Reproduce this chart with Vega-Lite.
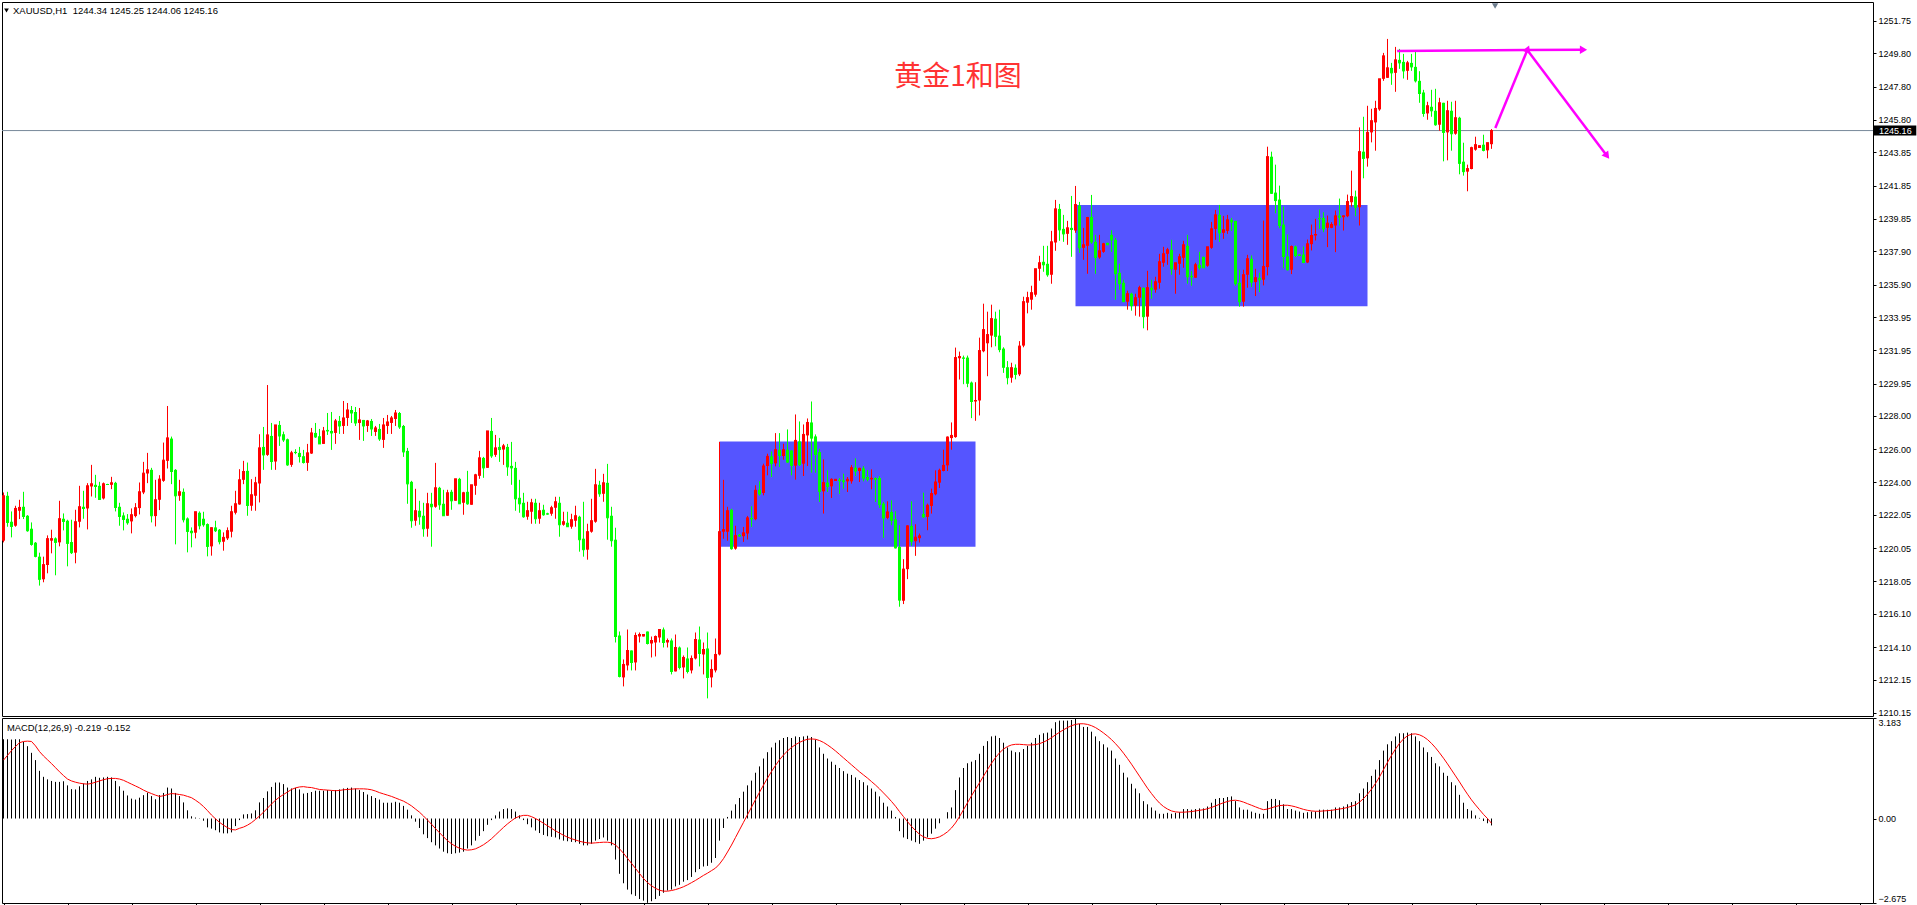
{
"$schema":"https://vega.github.io/schema/vega-lite/v6.json",
"background":"#ffffff",
"padding":{"left":1,"top":1,"right":0,"bottom":0},
"autosize":{"type":"pad"},
"spacing":2,
"bounds":"flush",
"config":{"view":{"stroke":"#000000","strokeWidth":1},"font":"Liberation Sans",
"axis":{"labelFont":"Liberation Sans","labelFontSize":9,"labelColor":"#000000","tickColor":"#000000","tickSize":3,"labelPadding":2,"domain":false,"grid":false}},
"datasets":{
"boxes":[{"x0":179,"x1":243,"lo":1220.13,"hi":1226.46},{"x0":268,"x1":341,"lo":1234.59,"hi":1240.69}],
"arrows":[{"x0":348.4,"p0":1249.95,"x1":394.7,"p1":1250.02},{"x0":372.95,"p0":1245.32,"x1":380.95,"p1":1250.0},{"x0":380.95,"p0":1250.0,"x1":400.7,"p1":1243.69}],
"bars":[
{"i":0,"o":1220.5,"h":1223.4,"l":1220.4,"c":1223.2,"m":2.51,"s":1.85},
{"i":1,"o":1223.2,"h":1223.44,"l":1221.34,"c":1221.6,"m":2.51,"s":2.0},
{"i":2,"o":1221.64,"h":1222.26,"l":1220.7,"c":1221.36,"m":2.5,"s":2.15},
{"i":3,"o":1221.4,"h":1222.6,"l":1221.34,"c":1222.44,"m":2.51,"s":2.28},
{"i":4,"o":1222.3,"h":1222.96,"l":1221.8,"c":1222.5,"m":2.51,"s":2.4},
{"i":5,"o":1222.54,"h":1223.44,"l":1221.8,"c":1221.96,"m":2.43,"s":2.44},
{"i":6,"o":1222.0,"h":1222.04,"l":1221.04,"c":1221.1,"m":2.29,"s":2.45},
{"i":7,"o":1221.22,"h":1221.6,"l":1220.2,"c":1220.28,"m":2.08,"s":2.44},
{"i":8,"o":1220.38,"h":1220.42,"l":1219.5,"c":1219.56,"m":1.85,"s":2.3},
{"i":9,"o":1219.54,"h":1219.78,"l":1217.8,"c":1218.18,"m":1.51,"s":2.12},
{"i":10,"o":1218.18,"h":1219.54,"l":1218.0,"c":1219.06,"m":1.32,"s":1.98},
{"i":11,"o":1219.04,"h":1220.82,"l":1218.54,"c":1220.62,"m":1.24,"s":1.86},
{"i":12,"o":1220.5,"h":1221.16,"l":1219.74,"c":1220.62,"m":1.19,"s":1.74},
{"i":13,"o":1220.64,"h":1220.7,"l":1218.42,"c":1220.4,"m":1.16,"s":1.61},
{"i":14,"o":1220.4,"h":1222.9,"l":1220.16,"c":1221.82,"m":1.16,"s":1.48},
{"i":15,"o":1221.82,"h":1222.14,"l":1221.12,"c":1221.66,"m":1.18,"s":1.36},
{"i":16,"o":1221.7,"h":1221.76,"l":1218.96,"c":1220.34,"m":1.05,"s":1.25},
{"i":17,"o":1220.42,"h":1221.76,"l":1219.7,"c":1219.78,"m":0.93,"s":1.19},
{"i":18,"o":1219.78,"h":1222.36,"l":1219.14,"c":1221.64,"m":0.92,"s":1.15},
{"i":19,"o":1221.64,"h":1223.8,"l":1221.3,"c":1222.54,"m":1.02,"s":1.12},
{"i":20,"o":1222.54,"h":1223.5,"l":1221.82,"c":1222.44,"m":1.11,"s":1.1},
{"i":21,"o":1222.44,"h":1223.96,"l":1221.18,"c":1223.8,"m":1.19,"s":1.09},
{"i":22,"o":1223.76,"h":1225.06,"l":1223.16,"c":1223.92,"m":1.24,"s":1.11},
{"i":23,"o":1223.86,"h":1224.46,"l":1223.08,"c":1223.76,"m":1.32,"s":1.15},
{"i":24,"o":1223.8,"h":1224.04,"l":1222.96,"c":1222.98,"m":1.29,"s":1.19},
{"i":25,"o":1223.04,"h":1224.0,"l":1222.98,"c":1223.92,"m":1.3,"s":1.23},
{"i":26,"o":1223.9,"h":1223.92,"l":1223.86,"c":1223.88,"m":1.32,"s":1.26},
{"i":27,"o":1223.86,"h":1224.34,"l":1223.6,"c":1223.98,"m":1.3,"s":1.27},
{"i":28,"o":1223.98,"h":1224.04,"l":1222.26,"c":1222.5,"m":1.19,"s":1.27},
{"i":29,"o":1222.54,"h":1222.78,"l":1221.4,"c":1221.96,"m":1.02,"s":1.25},
{"i":30,"o":1222.02,"h":1222.2,"l":1221.12,"c":1221.78,"m":0.88,"s":1.21},
{"i":31,"o":1221.82,"h":1222.1,"l":1221.46,"c":1221.58,"m":0.73,"s":1.15},
{"i":32,"o":1221.66,"h":1222.44,"l":1220.94,"c":1222.06,"m":0.63,"s":1.09},
{"i":33,"o":1221.98,"h":1222.76,"l":1221.9,"c":1222.48,"m":0.6,"s":1.03},
{"i":34,"o":1222.46,"h":1224.0,"l":1222.08,"c":1223.44,"m":0.66,"s":0.97},
{"i":35,"o":1223.4,"h":1225.24,"l":1223.3,"c":1224.56,"m":0.74,"s":0.9},
{"i":36,"o":1224.54,"h":1225.78,"l":1223.96,"c":1224.76,"m":0.82,"s":0.84},
{"i":37,"o":1224.76,"h":1224.88,"l":1221.6,"c":1222.0,"m":0.71,"s":0.79},
{"i":38,"o":1221.98,"h":1224.16,"l":1221.36,"c":1222.96,"m":0.61,"s":0.74},
{"i":39,"o":1222.96,"h":1224.44,"l":1222.34,"c":1224.2,"m":0.74,"s":0.7},
{"i":40,"o":1224.1,"h":1226.4,"l":1224.04,"c":1225.34,"m":0.81,"s":0.72},
{"i":41,"o":1225.3,"h":1228.6,"l":1224.84,"c":1226.68,"m":0.98,"s":0.76},
{"i":42,"o":1226.64,"h":1226.76,"l":1223.9,"c":1224.66,"m":0.95,"s":0.79},
{"i":43,"o":1224.76,"h":1224.8,"l":1220.28,"c":1223.2,"m":0.81,"s":0.78},
{"i":44,"o":1223.2,"h":1224.16,"l":1222.9,"c":1223.44,"m":0.71,"s":0.76},
{"i":45,"o":1223.44,"h":1223.64,"l":1221.6,"c":1221.76,"m":0.51,"s":0.74},
{"i":46,"o":1221.84,"h":1221.9,"l":1219.8,"c":1221.06,"m":0.26,"s":0.7},
{"i":47,"o":1221.1,"h":1221.3,"l":1220.1,"c":1220.98,"m":0.07,"s":0.66},
{"i":48,"o":1220.98,"h":1222.24,"l":1220.64,"c":1222.24,"m":0.03,"s":0.58},
{"i":49,"o":1222.18,"h":1222.26,"l":1221.18,"c":1221.4,"m":-0.01,"s":0.49},
{"i":50,"o":1221.82,"h":1222.24,"l":1221.34,"c":1221.46,"m":-0.07,"s":0.38},
{"i":51,"o":1221.5,"h":1221.54,"l":1219.56,"c":1220.16,"m":-0.28,"s":0.25},
{"i":52,"o":1220.16,"h":1221.3,"l":1219.6,"c":1221.28,"m":-0.32,"s":0.11},
{"i":53,"o":1221.3,"h":1221.7,"l":1221.02,"c":1221.1,"m":-0.37,"s":-0.01},
{"i":54,"o":1221.16,"h":1221.2,"l":1220.28,"c":1220.44,"m":-0.44,"s":-0.12},
{"i":55,"o":1220.44,"h":1221.0,"l":1219.9,"c":1220.7,"m":-0.47,"s":-0.21},
{"i":56,"o":1220.64,"h":1221.3,"l":1220.54,"c":1221.1,"m":-0.47,"s":-0.29},
{"i":57,"o":1221.04,"h":1222.6,"l":1220.7,"c":1222.24,"m":-0.44,"s":-0.35},
{"i":58,"o":1222.18,"h":1223.5,"l":1222.08,"c":1222.72,"m":-0.24,"s":-0.36},
{"i":59,"o":1222.68,"h":1224.8,"l":1222.66,"c":1224.16,"m":-0.05,"s":-0.31},
{"i":60,"o":1224.16,"h":1225.3,"l":1223.9,"c":1224.66,"m":0.13,"s":-0.27},
{"i":61,"o":1224.7,"h":1225.2,"l":1222.0,"c":1222.62,"m":0.14,"s":-0.21},
{"i":62,"o":1222.6,"h":1224.2,"l":1222.3,"c":1223.26,"m":0.16,"s":-0.13},
{"i":63,"o":1223.2,"h":1224.34,"l":1222.3,"c":1223.98,"m":0.26,"s":-0.03},
{"i":64,"o":1223.94,"h":1226.9,"l":1222.8,"c":1226.08,"m":0.51,"s":0.08},
{"i":65,"o":1226.14,"h":1227.34,"l":1224.76,"c":1225.66,"m":0.65,"s":0.2},
{"i":66,"o":1225.66,"h":1229.86,"l":1225.6,"c":1226.86,"m":0.86,"s":0.33},
{"i":67,"o":1226.8,"h":1227.58,"l":1224.76,"c":1225.26,"m":1.0,"s":0.46},
{"i":68,"o":1225.26,"h":1227.46,"l":1224.76,"c":1227.46,"m":1.14,"s":0.58},
{"i":69,"o":1227.46,"h":1227.7,"l":1226.2,"c":1226.8,"m":1.14,"s":0.68},
{"i":70,"o":1226.9,"h":1227.06,"l":1226.44,"c":1226.56,"m":1.09,"s":0.76},
{"i":71,"o":1226.6,"h":1226.64,"l":1225.0,"c":1225.06,"m":0.98,"s":0.84},
{"i":72,"o":1225.06,"h":1225.9,"l":1224.94,"c":1225.78,"m":0.95,"s":0.92},
{"i":73,"o":1225.84,"h":1226.0,"l":1225.7,"c":1225.8,"m":0.97,"s":0.97},
{"i":74,"o":1225.78,"h":1226.14,"l":1225.2,"c":1225.56,"m":0.92,"s":1.0},
{"i":75,"o":1225.58,"h":1225.96,"l":1225.14,"c":1225.2,"m":0.79,"s":1.01},
{"i":76,"o":1225.18,"h":1226.32,"l":1224.7,"c":1225.78,"m":0.81,"s":0.99},
{"i":77,"o":1225.74,"h":1227.28,"l":1225.72,"c":1226.98,"m":0.84,"s":0.98},
{"i":78,"o":1226.98,"h":1227.58,"l":1226.68,"c":1226.74,"m":0.88,"s":0.95},
{"i":79,"o":1226.78,"h":1227.22,"l":1226.32,"c":1226.32,"m":0.88,"s":0.92},
{"i":80,"o":1226.32,"h":1227.34,"l":1226.32,"c":1227.1,"m":0.88,"s":0.91},
{"i":81,"o":1227.16,"h":1228.18,"l":1226.86,"c":1227.1,"m":0.9,"s":0.9},
{"i":82,"o":1227.1,"h":1228.24,"l":1225.96,"c":1226.98,"m":0.88,"s":0.89},
{"i":83,"o":1226.98,"h":1227.82,"l":1226.32,"c":1227.7,"m":0.9,"s":0.88},
{"i":84,"o":1227.7,"h":1228.0,"l":1226.92,"c":1227.4,"m":0.92,"s":0.89},
{"i":85,"o":1227.4,"h":1228.9,"l":1226.92,"c":1227.88,"m":0.95,"s":0.91},
{"i":86,"o":1227.88,"h":1228.78,"l":1227.4,"c":1228.36,"m":0.97,"s":0.92},
{"i":87,"o":1228.36,"h":1228.6,"l":1227.58,"c":1228.18,"m":0.98,"s":0.93},
{"i":88,"o":1228.24,"h":1228.54,"l":1227.4,"c":1227.58,"m":0.95,"s":0.94},
{"i":89,"o":1227.58,"h":1228.48,"l":1226.56,"c":1227.76,"m":0.9,"s":0.94},
{"i":90,"o":1227.76,"h":1227.76,"l":1226.5,"c":1227.4,"m":0.84,"s":0.94},
{"i":91,"o":1227.4,"h":1227.76,"l":1227.04,"c":1227.7,"m":0.76,"s":0.93},
{"i":92,"o":1227.7,"h":1227.82,"l":1226.8,"c":1227.22,"m":0.71,"s":0.91},
{"i":93,"o":1227.04,"h":1227.4,"l":1226.8,"c":1227.28,"m":0.65,"s":0.87},
{"i":94,"o":1227.22,"h":1227.52,"l":1226.5,"c":1226.62,"m":0.6,"s":0.82},
{"i":95,"o":1226.56,"h":1227.88,"l":1226.08,"c":1227.46,"m":0.5,"s":0.78},
{"i":96,"o":1227.4,"h":1228.06,"l":1226.92,"c":1227.64,"m":0.5,"s":0.74},
{"i":97,"o":1227.58,"h":1228.0,"l":1226.92,"c":1227.88,"m":0.5,"s":0.7},
{"i":98,"o":1227.82,"h":1228.36,"l":1227.4,"c":1228.18,"m":0.53,"s":0.65},
{"i":99,"o":1228.18,"h":1228.24,"l":1227.22,"c":1227.34,"m":0.5,"s":0.6},
{"i":100,"o":1227.4,"h":1227.46,"l":1225.54,"c":1225.84,"m":0.4,"s":0.55},
{"i":101,"o":1225.9,"h":1226.08,"l":1222.72,"c":1223.92,"m":0.28,"s":0.48},
{"i":102,"o":1224.04,"h":1224.1,"l":1221.28,"c":1221.7,"m":0.1,"s":0.4},
{"i":103,"o":1221.7,"h":1223.62,"l":1221.4,"c":1222.3,"m":-0.1,"s":0.3},
{"i":104,"o":1222.3,"h":1222.9,"l":1221.46,"c":1221.94,"m":-0.3,"s":0.2},
{"i":105,"o":1222.0,"h":1222.78,"l":1220.74,"c":1221.22,"m":-0.5,"s":0.08},
{"i":106,"o":1221.22,"h":1223.38,"l":1220.74,"c":1222.72,"m":-0.62,"s":-0.05},
{"i":107,"o":1222.72,"h":1223.38,"l":1220.14,"c":1222.54,"m":-0.75,"s":-0.18},
{"i":108,"o":1222.54,"h":1225.18,"l":1222.48,"c":1223.68,"m":-0.85,"s":-0.32},
{"i":109,"o":1223.68,"h":1223.74,"l":1222.36,"c":1222.66,"m":-0.95,"s":-0.45},
{"i":110,"o":1222.72,"h":1223.56,"l":1222.0,"c":1222.0,"m":-1.05,"s":-0.58},
{"i":111,"o":1222.0,"h":1223.56,"l":1222.0,"c":1223.38,"m":-1.1,"s":-0.7},
{"i":112,"o":1223.44,"h":1223.56,"l":1222.36,"c":1222.9,"m":-1.12,"s":-0.8},
{"i":113,"o":1222.9,"h":1224.22,"l":1222.9,"c":1224.22,"m":-1.1,"s":-0.88},
{"i":114,"o":1224.22,"h":1224.28,"l":1222.72,"c":1222.72,"m":-1.08,"s":-0.94},
{"i":115,"o":1222.78,"h":1223.44,"l":1222.06,"c":1223.38,"m":-1.05,"s":-0.98},
{"i":116,"o":1223.44,"h":1224.7,"l":1222.66,"c":1222.72,"m":-0.95,"s":-1.0},
{"i":117,"o":1222.66,"h":1223.86,"l":1222.66,"c":1223.86,"m":-0.85,"s":-0.99},
{"i":118,"o":1223.8,"h":1224.52,"l":1223.26,"c":1224.46,"m":-0.7,"s":-0.96},
{"i":119,"o":1224.4,"h":1225.9,"l":1224.22,"c":1225.48,"m":-0.55,"s":-0.9},
{"i":120,"o":1225.48,"h":1225.54,"l":1224.28,"c":1224.88,"m":-0.4,"s":-0.83},
{"i":121,"o":1224.88,"h":1227.1,"l":1224.88,"c":1227.1,"m":-0.2,"s":-0.74},
{"i":122,"o":1227.1,"h":1227.88,"l":1225.48,"c":1225.6,"m":-0.05,"s":-0.64},
{"i":123,"o":1225.66,"h":1226.86,"l":1225.54,"c":1226.08,"m":0.1,"s":-0.52},
{"i":124,"o":1226.14,"h":1226.68,"l":1225.24,"c":1225.98,"m":0.22,"s":-0.4},
{"i":125,"o":1225.98,"h":1226.32,"l":1225.06,"c":1226.2,"m":0.3,"s":-0.28},
{"i":126,"o":1226.14,"h":1226.32,"l":1224.4,"c":1224.94,"m":0.32,"s":-0.17},
{"i":127,"o":1225.0,"h":1226.44,"l":1223.86,"c":1224.88,"m":0.3,"s":-0.07},
{"i":128,"o":1224.88,"h":1225.24,"l":1222.3,"c":1223.02,"m":0.22,"s":0.02},
{"i":129,"o":1223.08,"h":1224.16,"l":1222.18,"c":1222.72,"m":0.1,"s":0.07},
{"i":130,"o":1222.78,"h":1223.38,"l":1221.88,"c":1221.94,"m":-0.05,"s":0.1},
{"i":131,"o":1221.94,"h":1222.84,"l":1221.76,"c":1222.3,"m":-0.18,"s":0.1},
{"i":132,"o":1222.24,"h":1223.02,"l":1221.52,"c":1222.78,"m":-0.28,"s":0.06},
{"i":133,"o":1222.78,"h":1223.02,"l":1221.52,"c":1221.82,"m":-0.38,"s":0.0},
{"i":134,"o":1221.82,"h":1222.78,"l":1221.52,"c":1222.3,"m":-0.46,"s":-0.07},
{"i":135,"o":1222.36,"h":1222.66,"l":1222.0,"c":1222.06,"m":-0.52,"s":-0.15},
{"i":136,"o":1222.14,"h":1222.18,"l":1222.06,"c":1222.1,"m":-0.56,"s":-0.23},
{"i":137,"o":1222.12,"h":1222.6,"l":1222.0,"c":1222.48,"m":-0.58,"s":-0.31},
{"i":138,"o":1222.48,"h":1223.14,"l":1221.82,"c":1222.84,"m":-0.6,"s":-0.39},
{"i":139,"o":1222.78,"h":1223.14,"l":1220.74,"c":1221.46,"m":-0.66,"s":-0.46},
{"i":140,"o":1221.46,"h":1222.24,"l":1221.4,"c":1221.64,"m":-0.7,"s":-0.53},
{"i":141,"o":1221.58,"h":1222.24,"l":1221.34,"c":1221.34,"m":-0.72,"s":-0.59},
{"i":142,"o":1221.34,"h":1222.12,"l":1221.22,"c":1221.76,"m":-0.74,"s":-0.64},
{"i":143,"o":1221.7,"h":1222.6,"l":1221.34,"c":1222.0,"m":-0.75,"s":-0.68},
{"i":144,"o":1221.94,"h":1222.0,"l":1219.84,"c":1220.56,"m":-0.8,"s":-0.72},
{"i":145,"o":1220.62,"h":1222.84,"l":1219.54,"c":1219.96,"m":-0.85,"s":-0.75},
{"i":146,"o":1219.96,"h":1221.52,"l":1219.36,"c":1221.04,"m":-0.85,"s":-0.77},
{"i":147,"o":1221.04,"h":1223.02,"l":1220.98,"c":1221.7,"m":-0.8,"s":-0.78},
{"i":148,"o":1221.64,"h":1224.82,"l":1221.58,"c":1223.86,"m":-0.7,"s":-0.77},
{"i":149,"o":1223.86,"h":1224.1,"l":1223.14,"c":1223.32,"m":-0.65,"s":-0.76},
{"i":150,"o":1223.32,"h":1224.52,"l":1222.84,"c":1223.98,"m":-0.6,"s":-0.75},
{"i":151,"o":1223.98,"h":1225.12,"l":1220.56,"c":1221.88,"m":-0.7,"s":-0.75},
{"i":152,"o":1222.0,"h":1222.54,"l":1220.14,"c":1220.5,"m":-0.85,"s":-0.77},
{"i":153,"o":1220.56,"h":1221.28,"l":1214.38,"c":1214.74,"m":-1.3,"s":-0.84},
{"i":154,"o":1214.8,"h":1215.04,"l":1212.28,"c":1212.34,"m":-1.75,"s":-0.96},
{"i":155,"o":1212.28,"h":1213.36,"l":1211.74,"c":1213.06,"m":-2.05,"s":-1.1},
{"i":156,"o":1213.0,"h":1215.16,"l":1212.7,"c":1213.9,"m":-2.25,"s":-1.26},
{"i":157,"o":1213.9,"h":1213.9,"l":1212.7,"c":1213.18,"m":-2.4,"s":-1.42},
{"i":158,"o":1213.18,"h":1214.98,"l":1212.7,"c":1214.8,"m":-2.45,"s":-1.58},
{"i":159,"o":1214.74,"h":1214.98,"l":1214.38,"c":1214.86,"m":-2.55,"s":-1.74},
{"i":160,"o":1214.74,"h":1214.86,"l":1214.74,"c":1214.86,"m":-2.6,"s":-1.9},
{"i":161,"o":1215.04,"h":1215.04,"l":1214.26,"c":1214.32,"m":-2.67,"s":-2.03},
{"i":162,"o":1214.32,"h":1214.74,"l":1213.48,"c":1214.5,"m":-2.62,"s":-2.13},
{"i":163,"o":1214.38,"h":1214.8,"l":1213.54,"c":1214.74,"m":-2.55,"s":-2.21},
{"i":164,"o":1214.68,"h":1215.16,"l":1214.38,"c":1215.16,"m":-2.45,"s":-2.27},
{"i":165,"o":1215.16,"h":1215.28,"l":1214.08,"c":1214.38,"m":-2.35,"s":-2.3},
{"i":166,"o":1214.38,"h":1214.62,"l":1214.08,"c":1214.5,"m":-2.28,"s":-2.3},
{"i":167,"o":1214.5,"h":1214.62,"l":1212.46,"c":1212.64,"m":-2.25,"s":-2.28},
{"i":168,"o":1212.64,"h":1214.86,"l":1212.64,"c":1214.08,"m":-2.15,"s":-2.25},
{"i":169,"o":1214.08,"h":1214.14,"l":1212.76,"c":1212.88,"m":-2.1,"s":-2.21},
{"i":170,"o":1212.88,"h":1213.6,"l":1212.22,"c":1213.48,"m":-2.0,"s":-2.16},
{"i":171,"o":1213.42,"h":1214.08,"l":1212.52,"c":1212.64,"m":-1.95,"s":-2.1},
{"i":172,"o":1212.7,"h":1213.6,"l":1212.52,"c":1213.42,"m":-1.85,"s":-2.03},
{"i":173,"o":1213.42,"h":1214.98,"l":1213.36,"c":1214.56,"m":-1.7,"s":-1.96},
{"i":174,"o":1214.56,"h":1215.34,"l":1212.94,"c":1213.72,"m":-1.6,"s":-1.88},
{"i":175,"o":1213.66,"h":1214.38,"l":1212.46,"c":1213.96,"m":-1.52,"s":-1.8},
{"i":176,"o":1214.02,"h":1214.98,"l":1211.02,"c":1212.28,"m":-1.5,"s":-1.73},
{"i":177,"o":1212.28,"h":1213.36,"l":1211.68,"c":1212.76,"m":-1.4,"s":-1.65},
{"i":178,"o":1212.7,"h":1214.62,"l":1212.58,"c":1213.66,"m":-1.25,"s":-1.57},
{"i":179,"o":1213.66,"h":1226.44,"l":1213.6,"c":1221.04,"m":-0.7,"s":-1.44},
{"i":180,"o":1221.04,"h":1224.16,"l":1220.62,"c":1221.16,"m":-0.3,"s":-1.27},
{"i":181,"o":1221.04,"h":1222.54,"l":1220.5,"c":1222.3,"m":0.05,"s":-1.06},
{"i":182,"o":1222.36,"h":1222.42,"l":1219.96,"c":1220.02,"m":0.25,"s":-0.84},
{"i":183,"o":1220.02,"h":1221.4,"l":1219.96,"c":1220.8,"m":0.45,"s":-0.6},
{"i":184,"o":1220.86,"h":1220.9,"l":1220.74,"c":1220.78,"m":0.65,"s":-0.36},
{"i":185,"o":1220.77,"h":1221.33,"l":1220.43,"c":1220.97,"m":0.85,"s":-0.12},
{"i":186,"o":1220.93,"h":1221.99,"l":1220.57,"c":1221.87,"m":1.05,"s":0.12},
{"i":187,"o":1221.87,"h":1222.57,"l":1221.33,"c":1221.81,"m":1.2,"s":0.36},
{"i":188,"o":1221.79,"h":1223.83,"l":1221.73,"c":1223.53,"m":1.45,"s":0.6},
{"i":189,"o":1223.57,"h":1224.07,"l":1223.21,"c":1223.31,"m":1.65,"s":0.83},
{"i":190,"o":1223.37,"h":1225.13,"l":1223.23,"c":1224.99,"m":1.9,"s":1.06},
{"i":191,"o":1224.99,"h":1225.73,"l":1224.43,"c":1225.57,"m":2.1,"s":1.28},
{"i":192,"o":1225.57,"h":1225.87,"l":1224.33,"c":1225.15,"m":2.25,"s":1.49},
{"i":193,"o":1225.15,"h":1226.97,"l":1224.97,"c":1225.97,"m":2.4,"s":1.68},
{"i":194,"o":1225.97,"h":1226.97,"l":1224.93,"c":1225.63,"m":2.48,"s":1.86},
{"i":195,"o":1225.59,"h":1226.33,"l":1225.37,"c":1225.97,"m":2.55,"s":2.01},
{"i":196,"o":1225.97,"h":1227.19,"l":1225.17,"c":1225.23,"m":2.58,"s":2.14},
{"i":197,"o":1225.93,"h":1225.93,"l":1224.43,"c":1225.03,"m":2.55,"s":2.25},
{"i":198,"o":1225.01,"h":1228.09,"l":1224.17,"c":1226.53,"m":2.6,"s":2.34},
{"i":199,"o":1226.47,"h":1227.67,"l":1224.99,"c":1225.07,"m":2.58,"s":2.41},
{"i":200,"o":1225.13,"h":1227.49,"l":1224.39,"c":1226.89,"m":2.6,"s":2.47},
{"i":201,"o":1226.83,"h":1227.85,"l":1224.99,"c":1227.61,"m":2.62,"s":2.51},
{"i":202,"o":1227.61,"h":1228.87,"l":1224.59,"c":1226.67,"m":2.58,"s":2.52},
{"i":203,"o":1226.77,"h":1226.89,"l":1224.59,"c":1225.69,"m":2.5,"s":2.51},
{"i":204,"o":1225.83,"h":1226.03,"l":1222.83,"c":1223.47,"m":2.25,"s":2.47},
{"i":205,"o":1223.47,"h":1225.39,"l":1222.13,"c":1223.99,"m":2.05,"s":2.41},
{"i":206,"o":1223.99,"h":1224.73,"l":1223.43,"c":1223.77,"m":1.9,"s":2.33},
{"i":207,"o":1223.77,"h":1224.25,"l":1223.07,"c":1224.19,"m":1.8,"s":2.24},
{"i":208,"o":1224.09,"h":1224.19,"l":1224.09,"c":1224.19,"m":1.7,"s":2.14},
{"i":209,"o":1224.17,"h":1224.27,"l":1223.31,"c":1224.11,"m":1.6,"s":2.03},
{"i":210,"o":1224.13,"h":1224.53,"l":1223.63,"c":1224.05,"m":1.5,"s":1.92},
{"i":211,"o":1224.07,"h":1224.33,"l":1223.43,"c":1224.19,"m":1.42,"s":1.81},
{"i":212,"o":1224.07,"h":1225.05,"l":1223.93,"c":1224.89,"m":1.38,"s":1.7},
{"i":213,"o":1224.89,"h":1225.45,"l":1224.39,"c":1224.69,"m":1.3,"s":1.59},
{"i":214,"o":1224.69,"h":1224.89,"l":1224.03,"c":1224.85,"m":1.22,"s":1.48},
{"i":215,"o":1224.85,"h":1224.99,"l":1224.07,"c":1224.27,"m":1.15,"s":1.38},
{"i":216,"o":1224.33,"h":1224.75,"l":1224.07,"c":1224.19,"m":1.05,"s":1.28},
{"i":217,"o":1224.19,"h":1224.79,"l":1223.59,"c":1224.25,"m":0.95,"s":1.17},
{"i":218,"o":1224.27,"h":1224.31,"l":1222.83,"c":1224.19,"m":0.85,"s":1.06},
{"i":219,"o":1224.27,"h":1224.39,"l":1222.47,"c":1222.67,"m":0.7,"s":0.94},
{"i":220,"o":1222.73,"h":1222.83,"l":1220.67,"c":1221.87,"m":0.5,"s":0.81},
{"i":221,"o":1221.87,"h":1222.87,"l":1221.79,"c":1222.23,"m":0.38,"s":0.68},
{"i":222,"o":1222.23,"h":1222.93,"l":1221.43,"c":1221.73,"m":0.25,"s":0.54},
{"i":223,"o":1221.79,"h":1222.27,"l":1220.03,"c":1220.07,"m":0.05,"s":0.39},
{"i":224,"o":1220.13,"h":1221.43,"l":1216.53,"c":1216.93,"m":-0.4,"s":0.22},
{"i":225,"o":1216.89,"h":1219.39,"l":1216.69,"c":1218.79,"m":-0.6,"s":0.06},
{"i":226,"o":1218.79,"h":1221.43,"l":1218.19,"c":1221.39,"m":-0.65,"s":-0.1},
{"i":227,"o":1221.39,"h":1222.87,"l":1220.19,"c":1220.47,"m":-0.7,"s":-0.25},
{"i":228,"o":1220.47,"h":1221.49,"l":1219.59,"c":1220.71,"m":-0.75,"s":-0.38},
{"i":229,"o":1220.65,"h":1220.93,"l":1220.39,"c":1220.79,"m":-0.8,"s":-0.5},
{"i":230,"o":1222.11,"h":1223.39,"l":1221.87,"c":1221.93,"m":-0.7,"s":-0.58},
{"i":231,"o":1221.93,"h":1222.73,"l":1221.13,"c":1222.63,"m":-0.6,"s":-0.63},
{"i":232,"o":1222.59,"h":1223.63,"l":1222.13,"c":1223.33,"m":-0.48,"s":-0.64},
{"i":233,"o":1223.29,"h":1224.73,"l":1223.23,"c":1224.03,"m":-0.32,"s":-0.62},
{"i":234,"o":1223.99,"h":1224.83,"l":1223.67,"c":1224.73,"m":-0.15,"s":-0.58},
{"i":235,"o":1224.69,"h":1225.97,"l":1224.67,"c":1225.03,"m":0.0,"s":-0.51},
{"i":236,"o":1225.03,"h":1226.77,"l":1224.69,"c":1226.73,"m":0.2,"s":-0.42},
{"i":237,"o":1226.67,"h":1227.61,"l":1225.97,"c":1226.83,"m":0.35,"s":-0.3},
{"i":238,"o":1226.73,"h":1232.11,"l":1226.69,"c":1231.51,"m":0.9,"s":-0.14},
{"i":239,"o":1231.47,"h":1231.87,"l":1230.19,"c":1231.57,"m":1.3,"s":0.06},
{"i":240,"o":1231.51,"h":1231.63,"l":1229.91,"c":1231.47,"m":1.6,"s":0.28},
{"i":241,"o":1231.51,"h":1231.63,"l":1229.73,"c":1229.97,"m":1.75,"s":0.5},
{"i":242,"o":1230.01,"h":1230.07,"l":1227.87,"c":1228.87,"m":1.8,"s":0.72},
{"i":243,"o":1228.87,"h":1230.03,"l":1227.71,"c":1228.93,"m":1.85,"s":0.93},
{"i":244,"o":1228.93,"h":1232.71,"l":1228.03,"c":1231.93,"m":2.05,"s":1.13},
{"i":245,"o":1231.89,"h":1234.75,"l":1231.83,"c":1233.19,"m":2.3,"s":1.34},
{"i":246,"o":1232.37,"h":1234.27,"l":1230.39,"c":1232.89,"m":2.45,"s":1.55},
{"i":247,"o":1232.83,"h":1234.69,"l":1232.13,"c":1233.85,"m":2.6,"s":1.75},
{"i":248,"o":1233.85,"h":1234.27,"l":1232.19,"c":1232.79,"m":2.62,"s":1.93},
{"i":249,"o":1232.83,"h":1234.39,"l":1231.83,"c":1231.99,"m":2.55,"s":2.08},
{"i":250,"o":1232.05,"h":1232.13,"l":1230.59,"c":1230.93,"m":2.4,"s":2.2},
{"i":251,"o":1230.93,"h":1231.3,"l":1229.9,"c":1230.3,"m":2.25,"s":2.28},
{"i":252,"o":1230.3,"h":1231.2,"l":1230.0,"c":1230.9,"m":2.15,"s":2.33},
{"i":253,"o":1230.9,"h":1231.1,"l":1230.2,"c":1230.5,"m":2.1,"s":2.35},
{"i":254,"o":1230.5,"h":1232.5,"l":1230.4,"c":1232.2,"m":2.1,"s":2.35},
{"i":255,"o":1232.23,"h":1235.17,"l":1232.13,"c":1234.87,"m":2.2,"s":2.34},
{"i":256,"o":1234.81,"h":1235.47,"l":1234.17,"c":1235.11,"m":2.3,"s":2.33},
{"i":257,"o":1234.99,"h":1235.83,"l":1234.39,"c":1235.41,"m":2.4,"s":2.33},
{"i":258,"o":1235.29,"h":1236.85,"l":1235.17,"c":1236.85,"m":2.55,"s":2.34},
{"i":259,"o":1236.85,"h":1237.63,"l":1236.13,"c":1237.21,"m":2.65,"s":2.37},
{"i":260,"o":1237.27,"h":1238.23,"l":1236.67,"c":1237.09,"m":2.7,"s":2.42},
{"i":261,"o":1237.15,"h":1238.23,"l":1236.37,"c":1236.49,"m":2.72,"s":2.48},
{"i":262,"o":1236.49,"h":1239.13,"l":1235.95,"c":1238.47,"m":2.85,"s":2.56},
{"i":263,"o":1238.43,"h":1240.99,"l":1237.93,"c":1240.45,"m":3.05,"s":2.65},
{"i":264,"o":1240.45,"h":1240.75,"l":1238.53,"c":1239.19,"m":3.1,"s":2.73},
{"i":265,"o":1239.25,"h":1240.09,"l":1238.47,"c":1238.95,"m":3.1,"s":2.81},
{"i":266,"o":1238.95,"h":1239.73,"l":1238.29,"c":1239.31,"m":3.1,"s":2.88},
{"i":267,"o":1239.31,"h":1241.23,"l":1237.57,"c":1239.21,"m":3.12,"s":2.94},
{"i":268,"o":1239.15,"h":1241.83,"l":1239.01,"c":1240.71,"m":3.18,"s":2.98},
{"i":269,"o":1240.65,"h":1240.87,"l":1237.81,"c":1238.11,"m":3.0,"s":3.0},
{"i":270,"o":1238.11,"h":1239.31,"l":1237.39,"c":1238.29,"m":2.9,"s":3.0},
{"i":271,"o":1238.23,"h":1239.97,"l":1236.55,"c":1239.93,"m":2.9,"s":2.98},
{"i":272,"o":1239.97,"h":1241.29,"l":1238.35,"c":1238.47,"m":2.75,"s":2.94},
{"i":273,"o":1238.47,"h":1238.89,"l":1236.55,"c":1237.53,"m":2.6,"s":2.88},
{"i":274,"o":1237.53,"h":1238.89,"l":1237.45,"c":1237.93,"m":2.45,"s":2.8},
{"i":275,"o":1237.87,"h":1238.41,"l":1237.81,"c":1238.35,"m":2.35,"s":2.71},
{"i":276,"o":1238.41,"h":1238.41,"l":1238.29,"c":1238.29,"m":2.25,"s":2.61},
{"i":277,"o":1238.89,"h":1239.17,"l":1237.87,"c":1238.59,"m":2.15,"s":2.5},
{"i":278,"o":1238.59,"h":1238.71,"l":1234.99,"c":1236.55,"m":1.9,"s":2.37},
{"i":279,"o":1236.61,"h":1237.15,"l":1235.59,"c":1235.95,"m":1.7,"s":2.23},
{"i":280,"o":1236.01,"h":1236.19,"l":1234.87,"c":1234.87,"m":1.45,"s":2.07},
{"i":281,"o":1234.87,"h":1235.53,"l":1234.39,"c":1235.35,"m":1.3,"s":1.9},
{"i":282,"o":1235.35,"h":1235.41,"l":1234.33,"c":1234.63,"m":1.1,"s":1.72},
{"i":283,"o":1234.63,"h":1235.35,"l":1234.03,"c":1235.11,"m":0.95,"s":1.53},
{"i":284,"o":1235.11,"h":1235.83,"l":1233.97,"c":1235.71,"m":0.8,"s":1.34},
{"i":285,"o":1235.71,"h":1235.71,"l":1233.27,"c":1233.97,"m":0.55,"s":1.15},
{"i":286,"o":1233.97,"h":1236.73,"l":1233.15,"c":1235.71,"m":0.45,"s":0.96},
{"i":287,"o":1235.71,"h":1236.19,"l":1235.05,"c":1235.59,"m":0.35,"s":0.79},
{"i":288,"o":1235.59,"h":1236.37,"l":1235.41,"c":1236.07,"m":0.25,"s":0.63},
{"i":289,"o":1236.01,"h":1237.75,"l":1235.65,"c":1237.27,"m":0.15,"s":0.49},
{"i":290,"o":1237.21,"h":1238.17,"l":1236.97,"c":1237.75,"m":0.15,"s":0.38},
{"i":291,"o":1237.75,"h":1238.11,"l":1237.09,"c":1237.99,"m":0.18,"s":0.3},
{"i":292,"o":1237.99,"h":1238.59,"l":1236.49,"c":1236.85,"m":0.15,"s":0.24},
{"i":293,"o":1236.79,"h":1237.21,"l":1235.35,"c":1237.21,"m":0.18,"s":0.21},
{"i":294,"o":1237.15,"h":1237.75,"l":1236.49,"c":1237.57,"m":0.2,"s":0.2},
{"i":295,"o":1237.51,"h":1238.53,"l":1236.91,"c":1238.29,"m":0.3,"s":0.2},
{"i":296,"o":1238.23,"h":1238.89,"l":1235.95,"c":1236.37,"m":0.3,"s":0.21},
{"i":297,"o":1236.43,"h":1236.73,"l":1235.83,"c":1236.37,"m":0.28,"s":0.22},
{"i":298,"o":1236.31,"h":1237.21,"l":1236.31,"c":1237.09,"m":0.3,"s":0.24},
{"i":299,"o":1237.09,"h":1237.87,"l":1236.79,"c":1236.91,"m":0.32,"s":0.26},
{"i":300,"o":1237.57,"h":1237.57,"l":1236.91,"c":1236.91,"m":0.32,"s":0.28},
{"i":301,"o":1237.03,"h":1238.17,"l":1236.97,"c":1238.17,"m":0.38,"s":0.31},
{"i":302,"o":1238.11,"h":1239.67,"l":1238.05,"c":1239.25,"m":0.5,"s":0.35},
{"i":303,"o":1239.25,"h":1240.39,"l":1238.59,"c":1240.09,"m":0.62,"s":0.4},
{"i":304,"o":1240.09,"h":1240.69,"l":1238.47,"c":1239.01,"m":0.65,"s":0.45},
{"i":305,"o":1239.01,"h":1240.03,"l":1238.65,"c":1239.19,"m":0.65,"s":0.5},
{"i":306,"o":1239.13,"h":1240.09,"l":1238.95,"c":1239.79,"m":0.68,"s":0.54},
{"i":307,"o":1239.79,"h":1239.91,"l":1239.13,"c":1239.67,"m":0.7,"s":0.57},
{"i":308,"o":1239.73,"h":1239.73,"l":1235.83,"c":1235.95,"m":0.55,"s":0.58},
{"i":309,"o":1236.01,"h":1236.79,"l":1234.57,"c":1234.87,"m":0.35,"s":0.56},
{"i":310,"o":1234.87,"h":1236.79,"l":1234.57,"c":1236.49,"m":0.28,"s":0.52},
{"i":311,"o":1236.49,"h":1237.69,"l":1235.71,"c":1237.45,"m":0.28,"s":0.47},
{"i":312,"o":1237.45,"h":1237.65,"l":1235.75,"c":1236.05,"m":0.22,"s":0.42},
{"i":313,"o":1236.05,"h":1236.85,"l":1235.21,"c":1236.31,"m":0.18,"s":0.37},
{"i":314,"o":1236.31,"h":1236.61,"l":1235.45,"c":1236.19,"m":0.15,"s":0.32},
{"i":315,"o":1236.19,"h":1239.75,"l":1235.85,"c":1236.99,"m":0.15,"s":0.28},
{"i":316,"o":1236.95,"h":1244.19,"l":1236.45,"c":1243.59,"m":0.55,"s":0.3},
{"i":317,"o":1243.59,"h":1243.89,"l":1241.35,"c":1241.39,"m":0.62,"s":0.34},
{"i":318,"o":1241.43,"h":1243.11,"l":1240.19,"c":1240.95,"m":0.62,"s":0.38},
{"i":319,"o":1241.01,"h":1241.85,"l":1239.29,"c":1239.45,"m":0.58,"s":0.41},
{"i":320,"o":1239.51,"h":1240.59,"l":1236.89,"c":1237.59,"m":0.45,"s":0.42},
{"i":321,"o":1237.59,"h":1238.91,"l":1236.75,"c":1236.79,"m":0.3,"s":0.42},
{"i":322,"o":1236.79,"h":1238.25,"l":1236.53,"c":1238.19,"m":0.3,"s":0.4},
{"i":323,"o":1238.19,"h":1238.25,"l":1237.55,"c":1237.65,"m":0.25,"s":0.37},
{"i":324,"o":1237.71,"h":1237.71,"l":1237.65,"c":1237.65,"m":0.22,"s":0.33},
{"i":325,"o":1237.71,"h":1238.19,"l":1237.19,"c":1237.23,"m":0.18,"s":0.29},
{"i":326,"o":1237.23,"h":1238.61,"l":1237.19,"c":1238.35,"m":0.2,"s":0.26},
{"i":327,"o":1238.33,"h":1239.51,"l":1237.95,"c":1238.85,"m":0.22,"s":0.24},
{"i":328,"o":1238.85,"h":1239.85,"l":1238.55,"c":1238.91,"m":0.22,"s":0.23},
{"i":329,"o":1239.91,"h":1240.41,"l":1239.25,"c":1239.85,"m":0.28,"s":0.23},
{"i":330,"o":1239.91,"h":1240.25,"l":1239.05,"c":1239.25,"m":0.28,"s":0.24},
{"i":331,"o":1239.31,"h":1240.05,"l":1238.15,"c":1239.59,"m":0.28,"s":0.25},
{"i":332,"o":1239.31,"h":1239.65,"l":1239.29,"c":1239.51,"m":0.28,"s":0.26},
{"i":333,"o":1239.45,"h":1240.35,"l":1237.85,"c":1240.03,"m":0.35,"s":0.28},
{"i":334,"o":1240.05,"h":1241.07,"l":1239.45,"c":1239.95,"m":0.35,"s":0.3},
{"i":335,"o":1239.95,"h":1240.05,"l":1239.15,"c":1240.03,"m":0.38,"s":0.32},
{"i":336,"o":1240.01,"h":1241.31,"l":1239.95,"c":1240.89,"m":0.45,"s":0.35},
{"i":337,"o":1240.85,"h":1242.75,"l":1240.59,"c":1241.19,"m":0.52,"s":0.39},
{"i":338,"o":1241.19,"h":1241.55,"l":1240.01,"c":1240.55,"m":0.55,"s":0.43},
{"i":339,"o":1240.55,"h":1245.35,"l":1239.45,"c":1243.89,"m":0.8,"s":0.52},
{"i":340,"o":1243.89,"h":1245.99,"l":1242.29,"c":1243.49,"m":0.95,"s":0.63},
{"i":341,"o":1243.49,"h":1246.65,"l":1242.99,"c":1245.05,"m":1.15,"s":0.77},
{"i":342,"o":1245.05,"h":1246.47,"l":1244.45,"c":1245.75,"m":1.35,"s":0.93},
{"i":343,"o":1245.65,"h":1246.95,"l":1243.95,"c":1246.49,"m":1.55,"s":1.11},
{"i":344,"o":1246.43,"h":1248.27,"l":1246.35,"c":1248.27,"m":1.85,"s":1.32},
{"i":345,"o":1248.27,"h":1249.83,"l":1248.15,"c":1249.65,"m":2.15,"s":1.55},
{"i":346,"o":1248.33,"h":1250.67,"l":1248.33,"c":1248.93,"m":2.35,"s":1.78},
{"i":347,"o":1248.93,"h":1249.23,"l":1247.91,"c":1248.63,"m":2.45,"s":2.0},
{"i":348,"o":1248.63,"h":1250.19,"l":1247.49,"c":1249.41,"m":2.6,"s":2.2},
{"i":349,"o":1249.41,"h":1250.07,"l":1248.87,"c":1249.23,"m":2.7,"s":2.38},
{"i":350,"o":1249.29,"h":1249.77,"l":1248.29,"c":1248.75,"m":2.7,"s":2.52},
{"i":351,"o":1248.75,"h":1249.35,"l":1248.21,"c":1249.23,"m":2.72,"s":2.62},
{"i":352,"o":1249.23,"h":1249.77,"l":1248.75,"c":1248.99,"m":2.7,"s":2.67},
{"i":353,"o":1248.99,"h":1249.89,"l":1248.05,"c":1248.15,"m":2.6,"s":2.68},
{"i":354,"o":1248.15,"h":1248.73,"l":1246.83,"c":1247.39,"m":2.45,"s":2.65},
{"i":355,"o":1247.45,"h":1247.61,"l":1245.99,"c":1246.19,"m":2.25,"s":2.59},
{"i":356,"o":1246.19,"h":1246.89,"l":1245.81,"c":1246.65,"m":2.1,"s":2.5},
{"i":357,"o":1246.59,"h":1247.61,"l":1245.99,"c":1246.35,"m":1.95,"s":2.38},
{"i":358,"o":1246.35,"h":1247.67,"l":1245.45,"c":1245.51,"m":1.75,"s":2.24},
{"i":359,"o":1245.51,"h":1247.13,"l":1245.15,"c":1246.83,"m":1.65,"s":2.08},
{"i":360,"o":1246.83,"h":1246.83,"l":1243.31,"c":1245.05,"m":1.45,"s":1.91},
{"i":361,"o":1245.05,"h":1246.95,"l":1243.37,"c":1246.35,"m":1.35,"s":1.73},
{"i":362,"o":1246.35,"h":1246.89,"l":1243.95,"c":1244.97,"m":1.15,"s":1.54},
{"i":363,"o":1244.97,"h":1246.95,"l":1244.91,"c":1245.93,"m":1.05,"s":1.35},
{"i":364,"o":1245.93,"h":1245.99,"l":1242.53,"c":1243.19,"m":0.75,"s":1.16},
{"i":365,"o":1243.29,"h":1244.43,"l":1242.45,"c":1242.69,"m":0.5,"s":0.96},
{"i":366,"o":1242.69,"h":1243.11,"l":1241.51,"c":1242.87,"m":0.3,"s":0.77},
{"i":367,"o":1242.85,"h":1244.19,"l":1242.83,"c":1244.13,"m":0.25,"s":0.59},
{"i":368,"o":1244.01,"h":1244.79,"l":1243.95,"c":1244.31,"m":0.1,"s":0.43},
{"i":369,"o":1244.11,"h":1244.25,"l":1244.11,"c":1244.25,"m":0.02,"s":0.28},
{"i":370,"o":1244.31,"h":1244.91,"l":1243.91,"c":1243.97,"m":-0.08,"s":0.13},
{"i":371,"o":1243.97,"h":1244.43,"l":1243.49,"c":1244.43,"m":-0.15,"s":0.0},
{"i":372,"o":1244.34,"h":1245.25,"l":1244.06,"c":1245.16,"m":-0.219,"s":-0.152}
]},
"vconcat":[
{"width":1871,"height":714,
"layer":[
{"data":{"name":"boxes"},"mark":{"type":"rect","color":"#5555ff"},
"encoding":{"x":{"field":"x0","type":"quantitative","scale":{"domain":[-0.375,467.375],"nice":false,"zero":false},"axis":null},"x2":{"field":"x1"},
"y":{"field":"lo","type":"quantitative","scale":{"domain":[1209.96,1252.89],"nice":false,"zero":false},"axis":{"orient":"right","title":null,"values":[1251.75,1249.8,1247.8,1245.8,1243.85,1241.85,1239.85,1237.9,1235.9,1233.95,1231.95,1229.95,1228.0,1226.0,1224.0,1222.05,1220.05,1218.05,1216.1,1214.1,1212.15,1210.15],"format":".2f"}},"y2":{"field":"hi"}}},
{"data":{"values":[{"p":1245.16}]},"mark":{"type":"rule","color":"#778899","strokeWidth":1},
"encoding":{"y":{"field":"p","type":"quantitative","scale":{"domain":[1209.96,1252.89],"nice":false,"zero":false},"axis":{"orient":"right","title":null,"values":[1251.75,1249.8,1247.8,1245.8,1243.85,1241.85,1239.85,1237.9,1235.9,1233.95,1231.95,1229.95,1228.0,1226.0,1224.0,1222.05,1220.05,1218.05,1216.1,1214.1,1212.15,1210.15],"format":".2f"}}}},
{"data":{"name":"bars"},"mark":{"type":"rule","strokeWidth":1},
"encoding":{"x":{"field":"i","type":"quantitative","scale":{"domain":[-0.375,467.375],"nice":false,"zero":false},"axis":null},
"y":{"field":"l","type":"quantitative","scale":{"domain":[1209.96,1252.89],"nice":false,"zero":false},"axis":{"orient":"right","title":null,"values":[1251.75,1249.8,1247.8,1245.8,1243.85,1241.85,1239.85,1237.9,1235.9,1233.95,1231.95,1229.95,1228.0,1226.0,1224.0,1222.05,1220.05,1218.05,1216.1,1214.1,1212.15,1210.15],"format":".2f"}},"y2":{"field":"h"},
"color":{"condition":{"test":"datum.c > datum.o","value":"#ff0000"},"value":"#00ff00"}}},
{"data":{"name":"bars"},"mark":{"type":"rule","strokeWidth":3},
"encoding":{"x":{"field":"i","type":"quantitative","scale":{"domain":[-0.375,467.375],"nice":false,"zero":false},"axis":null},
"y":{"field":"o","type":"quantitative","scale":{"domain":[1209.96,1252.89],"nice":false,"zero":false},"axis":{"orient":"right","title":null,"values":[1251.75,1249.8,1247.8,1245.8,1243.85,1241.85,1239.85,1237.9,1235.9,1233.95,1231.95,1229.95,1228.0,1226.0,1224.0,1222.05,1220.05,1218.05,1216.1,1214.1,1212.15,1210.15],"format":".2f"}},"y2":{"field":"c"},
"color":{"condition":{"test":"datum.c > datum.o","value":"#ff0000"},"value":"#00ff00"}}},
{"data":{"name":"bars"},"mark":{"type":"tick","orient":"horizontal","thickness":1,"size":3,"opacity":1},
"encoding":{"x":{"field":"i","type":"quantitative","scale":{"domain":[-0.375,467.375],"nice":false,"zero":false},"axis":null},
"y":{"field":"c","type":"quantitative","scale":{"domain":[1209.96,1252.89],"nice":false,"zero":false},"axis":{"orient":"right","title":null,"values":[1251.75,1249.8,1247.8,1245.8,1243.85,1241.85,1239.85,1237.9,1235.9,1233.95,1231.95,1229.95,1228.0,1226.0,1224.0,1222.05,1220.05,1218.05,1216.1,1214.1,1212.15,1210.15],"format":".2f"}},
"color":{"condition":{"test":"datum.c > datum.o","value":"#ff0000"},"value":"#00ff00"}}},
{"data":{"name":"arrows"},"mark":{"type":"rule","color":"#ff00ff","strokeWidth":2.5},
"encoding":{"x":{"field":"x0","type":"quantitative","scale":{"domain":[-0.375,467.375],"nice":false,"zero":false},"axis":null},"x2":{"field":"x1"},
"y":{"field":"p0","type":"quantitative","scale":{"domain":[1209.96,1252.89],"nice":false,"zero":false},"axis":{"orient":"right","title":null,"values":[1251.75,1249.8,1247.8,1245.8,1243.85,1241.85,1239.85,1237.9,1235.9,1233.95,1231.95,1229.95,1228.0,1226.0,1224.0,1222.05,1220.05,1218.05,1216.1,1214.1,1212.15,1210.15],"format":".2f"}},"y2":{"field":"p1"}}},
{"data":{"values":[{"k":"a"}]},"mark":{"type":"point","shape":"triangle","filled":true,"size":70,"angle":90,"color":"#ff00ff","opacity":1},
"encoding":{"x":{"datum":394.7,"type":"quantitative","scale":{"domain":[-0.375,467.375],"nice":false,"zero":false},"axis":null},
"y":{"datum":1250.02,"type":"quantitative","scale":{"domain":[1209.96,1252.89],"nice":false,"zero":false},"axis":{"orient":"right","title":null,"values":[1251.75,1249.8,1247.8,1245.8,1243.85,1241.85,1239.85,1237.9,1235.9,1233.95,1231.95,1229.95,1228.0,1226.0,1224.0,1222.05,1220.05,1218.05,1216.1,1214.1,1212.15,1210.15],"format":".2f"}}}},
{"data":{"values":[{"k":"b"}]},"mark":{"type":"point","shape":"triangle","filled":true,"size":70,"angle":22,"color":"#ff00ff","opacity":1},
"encoding":{"x":{"datum":380.95,"type":"quantitative","scale":{"domain":[-0.375,467.375],"nice":false,"zero":false},"axis":null},
"y":{"datum":1250.0,"type":"quantitative","scale":{"domain":[1209.96,1252.89],"nice":false,"zero":false},"axis":{"orient":"right","title":null,"values":[1251.75,1249.8,1247.8,1245.8,1243.85,1241.85,1239.85,1237.9,1235.9,1233.95,1231.95,1229.95,1228.0,1226.0,1224.0,1222.05,1220.05,1218.05,1216.1,1214.1,1212.15,1210.15],"format":".2f"}}}},
{"data":{"values":[{"k":"c"}]},"mark":{"type":"point","shape":"triangle","filled":true,"size":70,"angle":143,"color":"#ff00ff","opacity":1},
"encoding":{"x":{"datum":400.7,"type":"quantitative","scale":{"domain":[-0.375,467.375],"nice":false,"zero":false},"axis":null},
"y":{"datum":1243.69,"type":"quantitative","scale":{"domain":[1209.96,1252.89],"nice":false,"zero":false},"axis":{"orient":"right","title":null,"values":[1251.75,1249.8,1247.8,1245.8,1243.85,1241.85,1239.85,1237.9,1235.9,1233.95,1231.95,1229.95,1228.0,1226.0,1224.0,1222.05,1220.05,1218.05,1216.1,1214.1,1212.15,1210.15],"format":".2f"}}}},
{"data":{"values":[{"t":"黄金1和图"}]},"mark":{"type":"text","font":"Noto Sans CJK SC","fontSize":28,"color":"#ff3333","align":"center","baseline":"middle"},
"encoding":{"x":{"datum":238.6,"type":"quantitative","scale":{"domain":[-0.375,467.375],"nice":false,"zero":false},"axis":null},
"y":{"datum":1248.32,"type":"quantitative","scale":{"domain":[1209.96,1252.89],"nice":false,"zero":false},"axis":{"orient":"right","title":null,"values":[1251.75,1249.8,1247.8,1245.8,1243.85,1241.85,1239.85,1237.9,1235.9,1233.95,1231.95,1229.95,1228.0,1226.0,1224.0,1222.05,1220.05,1218.05,1216.1,1214.1,1212.15,1210.15],"format":".2f"}},"text":{"field":"t"}}},
{"data":{"values":[{"t":"XAUUSD,H1\u00a0 1244.34 1245.25 1244.06 1245.16"}]},"mark":{"type":"text","font":"Liberation Sans","fontSize":9.5,"color":"#000000","align":"left","baseline":"middle"},
"encoding":{"x":{"datum":2.375,"type":"quantitative","scale":{"domain":[-0.375,467.375],"nice":false,"zero":false},"axis":null},
"y":{"datum":1252.35,"type":"quantitative","scale":{"domain":[1209.96,1252.89],"nice":false,"zero":false},"axis":{"orient":"right","title":null,"values":[1251.75,1249.8,1247.8,1245.8,1243.85,1241.85,1239.85,1237.9,1235.9,1233.95,1231.95,1229.95,1228.0,1226.0,1224.0,1222.05,1220.05,1218.05,1216.1,1214.1,1212.15,1210.15],"format":".2f"}},"text":{"field":"t"}}},
{"data":{"values":[{"k":"t"}]},"mark":{"type":"point","shape":"triangle-down","filled":true,"size":22,"color":"#000000","opacity":1},
"encoding":{"x":{"datum":0.75,"type":"quantitative","scale":{"domain":[-0.375,467.375],"nice":false,"zero":false},"axis":null},
"y":{"datum":1252.38,"type":"quantitative","scale":{"domain":[1209.96,1252.89],"nice":false,"zero":false},"axis":{"orient":"right","title":null,"values":[1251.75,1249.8,1247.8,1245.8,1243.85,1241.85,1239.85,1237.9,1235.9,1233.95,1231.95,1229.95,1228.0,1226.0,1224.0,1222.05,1220.05,1218.05,1216.1,1214.1,1212.15,1210.15],"format":".2f"}}}},
{"data":{"values":[{"k":"g"}]},"mark":{"type":"point","shape":"triangle-down","filled":true,"size":40,"color":"#6b7b8c","opacity":1},
"encoding":{"x":{"datum":372.9,"type":"quantitative","scale":{"domain":[-0.375,467.375],"nice":false,"zero":false},"axis":null},
"y":{"datum":1252.65,"type":"quantitative","scale":{"domain":[1209.96,1252.89],"nice":false,"zero":false},"axis":{"orient":"right","title":null,"values":[1251.75,1249.8,1247.8,1245.8,1243.85,1241.85,1239.85,1237.9,1235.9,1233.95,1231.95,1229.95,1228.0,1226.0,1224.0,1222.05,1220.05,1218.05,1216.1,1214.1,1212.15,1210.15],"format":".2f"}}}},
{"data":{"values":[{"k":"p"}]},"mark":{"type":"rect","color":"#000000","clip":false},
"encoding":{"x":{"datum":467.5,"type":"quantitative","scale":{"domain":[-0.375,467.375],"nice":false,"zero":false},"axis":null},"x2":{"datum":478.2},
"y":{"datum":1245.46,"type":"quantitative","scale":{"domain":[1209.96,1252.89],"nice":false,"zero":false},"axis":{"orient":"right","title":null,"values":[1251.75,1249.8,1247.8,1245.8,1243.85,1241.85,1239.85,1237.9,1235.9,1233.95,1231.95,1229.95,1228.0,1226.0,1224.0,1222.05,1220.05,1218.05,1216.1,1214.1,1212.15,1210.15],"format":".2f"}},"y2":{"datum":1244.86}}},
{"data":{"values":[{"t":"1245.16"}]},"mark":{"type":"text","font":"Liberation Sans","fontSize":9,"color":"#ffffff","align":"left","baseline":"middle","clip":false},
"encoding":{"x":{"datum":468.9,"type":"quantitative","scale":{"domain":[-0.375,467.375],"nice":false,"zero":false},"axis":null},
"y":{"datum":1245.16,"type":"quantitative","scale":{"domain":[1209.96,1252.89],"nice":false,"zero":false},"axis":{"orient":"right","title":null,"values":[1251.75,1249.8,1247.8,1245.8,1243.85,1241.85,1239.85,1237.9,1235.9,1233.95,1231.95,1229.95,1228.0,1226.0,1224.0,1222.05,1220.05,1218.05,1216.1,1214.1,1212.15,1210.15],"format":".2f"}},"text":{"field":"t"}}}
]},
{"width":1871,"height":185,
"layer":[
{"data":{"name":"bars"},"mark":{"type":"rule","color":"#000000","strokeWidth":1},
"encoding":{"x":{"field":"i","type":"quantitative","scale":{"domain":[-0.375,467.375],"nice":false,"zero":false},
"axis":{"orient":"bottom","title":null,"values":[0,16,32,48,64,80,96,112,128,144,160,176,192,208,224,240,256,272,288,304,320,336,352,368,384,400,416,432,448,464],"labels":false,"tickSize":4}},
"y":{"field":"m","type":"quantitative","scale":{"domain":[-2.675,3.183],"nice":false,"zero":false},
"axis":{"orient":"right","title":null,"values":[3.183,0,-2.675],"labelExpr":"datum.value == 0 ? '0.00' : format(datum.value, '.3f')","labelFlush":true}},
"y2":{"datum":0}}},
{"data":{"name":"bars"},"mark":{"type":"line","color":"#ff0000","strokeWidth":1},
"encoding":{"x":{"field":"i","type":"quantitative","scale":{"domain":[-0.375,467.375],"nice":false,"zero":false},
"axis":{"orient":"bottom","title":null,"values":[0,16,32,48,64,80,96,112,128,144,160,176,192,208,224,240,256,272,288,304,320,336,352,368,384,400,416,432,448,464],"labels":false,"tickSize":4}},
"y":{"field":"s","type":"quantitative","scale":{"domain":[-2.675,3.183],"nice":false,"zero":false},
"axis":{"orient":"right","title":null,"values":[3.183,0,-2.675],"labelExpr":"datum.value == 0 ? '0.00' : format(datum.value, '.3f')","labelFlush":true}}}},
{"data":{"values":[{"t":"MACD(12,26,9) -0.219 -0.152"}]},"mark":{"type":"text","font":"Liberation Sans","fontSize":9.4,"color":"#000000","align":"left","baseline":"middle"},
"encoding":{"x":{"datum":0.875,"type":"quantitative","scale":{"domain":[-0.375,467.375],"nice":false,"zero":false},
"axis":{"orient":"bottom","title":null,"values":[0,16,32,48,64,80,96,112,128,144,160,176,192,208,224,240,256,272,288,304,320,336,352,368,384,400,416,432,448,464],"labels":false,"tickSize":4}},
"y":{"datum":2.867,"type":"quantitative","scale":{"domain":[-2.675,3.183],"nice":false,"zero":false},
"axis":{"orient":"right","title":null,"values":[3.183,0,-2.675],"labelExpr":"datum.value == 0 ? '0.00' : format(datum.value, '.3f')","labelFlush":true}},"text":{"field":"t"}}}
]}
]
}
